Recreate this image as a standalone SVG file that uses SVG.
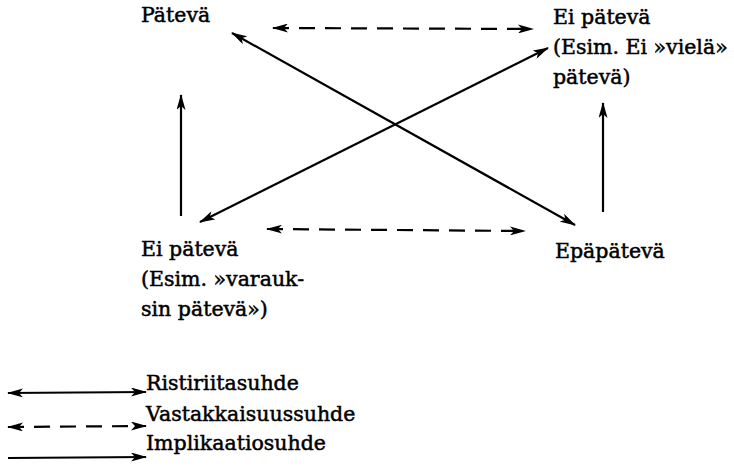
<svg xmlns="http://www.w3.org/2000/svg" width="734" height="466" viewBox="0 0 734 466">
<defs>
<marker id="ah" viewBox="0 0 16 9" refX="15" refY="4.5" markerWidth="16" markerHeight="9" markerUnits="userSpaceOnUse" orient="auto-start-reverse">
<path d="M0,0 L16,4.5 L0,9 L4,4.5 Z" fill="#000"/>
</marker>
</defs>
<style>
text{font-family:"DejaVu Serif","Liberation Serif",serif;font-size:20.5px;fill:#000;stroke:#000;stroke-width:0.5}
.s{stroke:#000;stroke-width:2.2;fill:none}
.d{stroke-dasharray:16,10}
</style>
<rect width="734" height="466" fill="#fff"/>
<g id="patev">
<text x="141" y="22">Pätevä</text>
</g>
<g id="ei-pateva-yla">
<text x="553" y="24">Ei pätevä</text>
<text x="553" y="54">(Esim. Ei »vielä»</text>
<text x="553" y="84">pätevä)</text>
</g>
<g id="ei-pateva-ala">
<text x="141" y="256">Ei pätevä</text>
<text x="141" y="286">(Esim. »varauk-</text>
<text x="141" y="316">sin pätevä»)</text>
</g>
<g id="epapateva">
<text x="555" y="258">Epäpätevä</text>
</g>
<g id="connectors">
<line class="s d" x1="273" y1="28" x2="533" y2="29" marker-start="url(#ah)" marker-end="url(#ah)"/>
<line class="s d" x1="267" y1="229" x2="525" y2="231" marker-start="url(#ah)" marker-end="url(#ah)"/>
<line class="s" x1="232" y1="33" x2="575" y2="225" marker-start="url(#ah)" marker-end="url(#ah)"/>
<line class="s" x1="200" y1="222" x2="548" y2="48" marker-start="url(#ah)" marker-end="url(#ah)"/>
<line class="s" x1="181" y1="216" x2="181" y2="95" marker-end="url(#ah)"/>
<line class="s" x1="603" y1="212" x2="603" y2="103" marker-end="url(#ah)"/>
</g>
<g id="legend">
<line class="s" x1="8" y1="393" x2="146" y2="392" marker-start="url(#ah)" marker-end="url(#ah)"/>
<text x="146" y="390">Ristiriitasuhde</text>
<line class="s d" x1="8" y1="427" x2="146" y2="426" marker-start="url(#ah)" marker-end="url(#ah)"/>
<text x="146" y="421">Vastakkaisuussuhde</text>
<line class="s" x1="8" y1="458" x2="146" y2="457" marker-end="url(#ah)"/>
<text x="146" y="450">Implikaatiosuhde</text>
</g>
</svg>
